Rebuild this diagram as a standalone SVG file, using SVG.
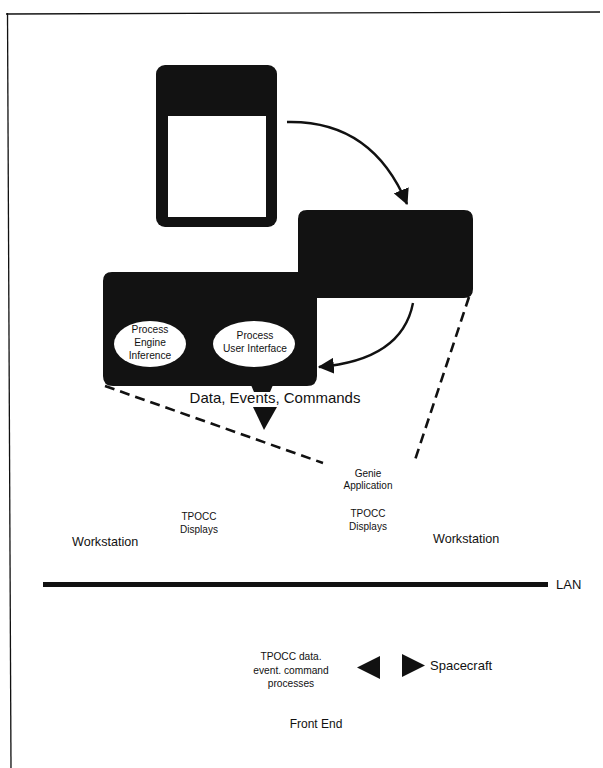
<svg xmlns="http://www.w3.org/2000/svg" width="603" height="768" viewBox="0 0 603 768">
<style>
text{font-family:"Liberation Sans",Arial,sans-serif;fill:#111}
.s{font-size:10px}
.e{font-size:10.2px}
.m{font-size:12.6px}
.dk{fill:#121212}
.dash{fill:none;stroke:#111;stroke-width:2.6;stroke-dasharray:10,6}
.arc{fill:none;stroke:#111;stroke-width:2.4}
</style>
<defs>
<marker id="ah" markerWidth="16" markerHeight="16" refX="13" refY="7" orient="auto" markerUnits="userSpaceOnUse" viewBox="0 0 14 14">
<path d="M0,0 L14,7 L0,14 z" fill="#111"/>
</marker>
</defs>
<rect width="603" height="768" fill="#fff"/>
<g id="frame">
<path d="M6,14 L600,12" stroke="#111" stroke-width="1.3" fill="none"/>
<path d="M7.5,13 L11,768" stroke="#111" stroke-width="1.3" fill="none"/>
</g>
<g id="card">
<rect class="dk" x="156" y="65" width="121" height="162" rx="9"/>
<rect x="168" y="116" width="98" height="101" fill="#fff"/>
</g>
<g id="genie-block">
<path class="dk" d="M112,272 L298,272 L298,219 Q298,210 307,210 L464,210 Q473,210 473,219 L473,289 Q473,298 464,298 L317,298 L317,376 Q317,386 307,386 L113,386 Q103,386 103,376 L103,281 Q103,272 112,272 Z"/>
<path class="dk" d="M251,385 L273,385 L270,392 L254,392 Z"/>
</g>
<g id="proc-engine">
<ellipse cx="150" cy="344" rx="36" ry="23" fill="#fff"/>
<text class="e" x="150" y="333" text-anchor="middle">Process</text>
<text class="e" x="150" y="346" text-anchor="middle">Engine</text>
<text class="e" x="150" y="359" text-anchor="middle">Inference</text>
</g>
<g id="proc-ui">
<ellipse cx="254" cy="344" rx="41" ry="23" fill="#fff"/>
<text class="e" x="255" y="339" text-anchor="middle">Process</text>
<text class="e" x="255" y="352" text-anchor="middle">User Interface</text>
</g>
<g id="connectors">
<path class="arc" d="M287,122 Q372,120 407,204" marker-end="url(#ah)"/>
<path class="arc" d="M413,303 Q402,360 319,367" marker-end="url(#ah)"/>
<path class="dash" d="M105,386 L323,463"/>
<path class="dash" d="M469,297 L414,463"/>
<path d="M253,407 L277,407 L264,430 Z" fill="#111"/>
<path d="M380,656 L380,679 L357,667.5 Z" fill="#111"/>
<path d="M402,654 L402,677 L425,665.5 Z" fill="#111"/>
<rect x="43" y="582" width="505" height="5" fill="#111"/>
</g>
<g id="labels">
<text x="275" y="403" text-anchor="middle" style="font-size:15px">Data, Events, Commands</text>
<text class="s" x="368" y="477" text-anchor="middle">Genie</text>
<text class="s" x="368" y="489" text-anchor="middle">Application</text>
<text class="s" x="199" y="520" text-anchor="middle">TPOCC</text>
<text class="s" x="199" y="533" text-anchor="middle">Displays</text>
<text class="s" x="368" y="517" text-anchor="middle">TPOCC</text>
<text class="s" x="368" y="530" text-anchor="middle">Displays</text>
<text class="m" x="72" y="546">Workstation</text>
<text class="m" x="433" y="543">Workstation</text>
<text x="556" y="589" style="font-size:13px">LAN</text>
<text class="e" x="291" y="660" text-anchor="middle">TPOCC data.</text>
<text class="e" x="291" y="674" text-anchor="middle">event. command</text>
<text class="e" x="291" y="687" text-anchor="middle">processes</text>
<text x="430" y="670" style="font-size:13px">Spacecraft</text>
<text x="316" y="728" text-anchor="middle" style="font-size:12px">Front End</text>
</g>
</svg>
